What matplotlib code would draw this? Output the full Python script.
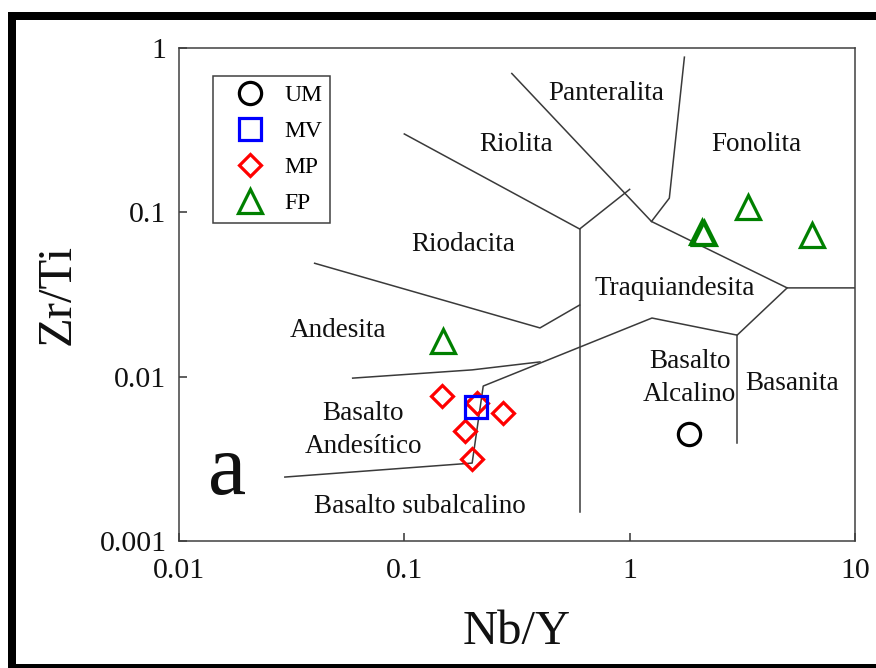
import matplotlib
matplotlib.use("Agg")
import matplotlib.pyplot as plt
from matplotlib.patches import Rectangle

plt.rcParams['font.family'] = ['Liberation Serif', 'DejaVu Serif']

# sample groups (Nb/Y, Zr/Ti)
um_x = [1.83]
um_y = [0.00448]
mv_x = [0.208]
mv_y = [0.00654]
mp_x = [0.147, 0.210, 0.274, 0.186, 0.200]
mp_y = [0.00763, 0.00691, 0.00601, 0.00467, 0.00315]
fp_x = [0.149, 2.09, 2.13, 3.35, 6.45]
fp_y = [0.0165, 0.0755, 0.0745, 0.1077, 0.0728]

# field boundaries
boundaries = [
    ([0.3, 1.25, 5.0, 10.0], [0.7, 0.088, 0.0347, 0.0347]),
    ([1.75, 1.5, 1.25], [0.88, 0.122, 0.088]),
    ([0.1, 0.6, 1.0], [0.3, 0.0792, 0.138]),
    ([0.6, 0.6], [0.0792, 0.0015]),
    ([0.04, 0.4, 0.6], [0.049, 0.0198, 0.0273]),
    ([0.059, 0.2, 0.4], [0.0098, 0.011, 0.0123]),
    ([0.0295, 0.2, 0.224, 1.256, 3.0, 5.0], [0.00245, 0.00298, 0.00877, 0.02275, 0.0179, 0.0347]),
    ([3.0, 3.0], [0.0179, 0.00395]),
]

# field names
field_names = ["Panteralita", "Riolita", "Fonolita", "Riodacita", "Traquiandesita",
               "Andesita", "Basalto\nAlcalino", "Basanita", "Basalto\nAndesítico",
               "Basalto subalcalino"]
field_x = [0.785, 0.313, 3.64, 0.182, 1.59, 0.0508, 1.85, 5.25, 0.0656, 0.1174]
field_y = [0.530, 0.2606, 0.2606, 0.0633, 0.0346, 0.0190, 0.0098, 0.00915, 0.00474, 0.00163]

fig = plt.figure(figsize=(8.76, 6.68), dpi=100)
ax = fig.add_axes([0.2043, 0.1901, 0.7717, 0.738])

for bx, by in boundaries:
    ax.plot(bx, by, color='#3a3a3a', lw=1.1, zorder=1)

for name, tx, ty in zip(field_names, field_x, field_y):
    ax.text(tx, ty, name, fontsize=19.5, ha='center', va='center', color='#111111',
            linespacing=1.4, zorder=2)

ax.text(0.0163, 0.0026, "a", fontsize=62, ha='center', va='center', color='#111111')

mew = 2.3
ax.plot(um_x, um_y, 'o', ms=16, mfc='none', mec='black', mew=mew, label='UM', zorder=3)
ax.plot(mv_x, mv_y, 's', ms=16, mfc='none', mec='#0000ff', mew=mew, label='MV', zorder=4)
ax.plot(mp_x, mp_y, 'D', ms=11.5, mfc='none', mec='#ff0000', mew=mew, label='MP', zorder=3)
ax.plot(fp_x, fp_y, '^', ms=17, mfc='none', mec='#008000', mew=mew, label='FP', zorder=3)

ax.set_xscale('log')
ax.set_yscale('log')
ax.set_xlim(0.01, 10)
ax.set_ylim(0.001, 1)
ax.set_xticks([0.01, 0.1, 1, 10])
ax.set_xticklabels(['0.01', '0.1', '1', '10'])
ax.set_yticks([0.001, 0.01, 0.1, 1])
ax.set_yticklabels(['0.001', '0.01', '0.1', '1'])
ax.minorticks_off()
ax.tick_params(axis='both', which='major', direction='in', length=6, width=1.1,
               labelsize=21.5, colors='#333333', labelcolor='#111111')
ax.tick_params(axis='y', pad=9)
ax.tick_params(axis='x', pad=12)
for sp in ax.spines.values():
    sp.set_color('#404040')
    sp.set_linewidth(1.1)

ax.set_xlabel('Nb/Y', fontsize=35, color='#111111', labelpad=19)
ax.set_ylabel('Zr/Ti', fontsize=35, color='#111111', labelpad=14)

leg = ax.legend(loc='upper left', bbox_to_anchor=(0.0503, 0.943), borderaxespad=0,
                fontsize=17, frameon=True, fancybox=False, framealpha=1,
                edgecolor='#404040', borderpad=0.35, handlelength=2.4,
                handletextpad=0.26, labelspacing=0.62, numpoints=1)
leg.get_frame().set_linewidth(1.1)

# thick black frame around the figure (right edge is cut off)
W, H = 876.0, 668.0
fig.add_artist(Rectangle((8 / W, 0), 8 / W, 656 / H, transform=fig.transFigure,
                         color='black', lw=0))
fig.add_artist(Rectangle((8 / W, 1 - 19.5 / H), 1, 7.5 / H, transform=fig.transFigure,
                         color='black', lw=0))
fig.add_artist(Rectangle((8 / W, 0), 1, 4 / H, transform=fig.transFigure,
                         color='black', lw=0))

fig.savefig('out.png', dpi=100)
